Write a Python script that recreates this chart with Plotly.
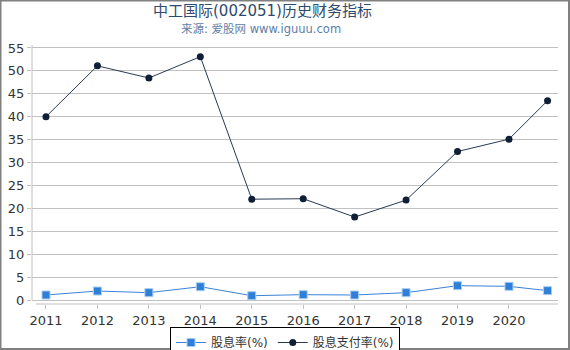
import plotly.graph_objects as go

years = [2011, 2012, 2013, 2014, 2015, 2016, 2017, 2018, 2019, 2020, 2020.75]
tick_vals = [2011, 2012, 2013, 2014, 2015, 2016, 2017, 2018, 2019, 2020]
tick_text = [str(v) for v in tick_vals]
dividend_yield = [1.09, 1.96, 1.6, 2.9, 0.94, 1.16, 1.09, 1.6, 3.13, 2.98, 2.04]
payout_ratio = [40.0, 51.1, 48.45, 53.1, 22.0, 22.1, 18.1, 21.8, 32.4, 35.1, 43.5]

FONT = "DejaVu Sans, Noto Sans CJK SC, sans-serif"

fig = go.Figure()
fig.add_trace(go.Scatter(
    x=years, y=dividend_yield, name="股息率(%)", mode="lines+markers",
    line=dict(color="#3b82d6", width=1),
    marker=dict(symbol="square", size=8, color="#2f7fd8",
                line=dict(color="#a9cdf2", width=1)),
))
fig.add_trace(go.Scatter(
    x=years, y=payout_ratio, name="股息支付率(%)", mode="lines+markers",
    line=dict(color="#2a3a55", width=1),
    marker=dict(symbol="circle", size=7, color="#0f1f38"),
))

x_lo, x_hi = 2010.728, 2020.953
y_lo, y_hi = -0.873, 55.65
PW, PH = 526, 259

fig.update_layout(
    width=570, height=350,
    margin=dict(l=32, r=12, t=45, b=46, autoexpand=False),
    paper_bgcolor="white", plot_bgcolor="white",
    font=dict(family=FONT, size=13, color="#333333"),
    showlegend=True,
    legend=dict(
        orientation="h", x=(285 - 32) / PW, xanchor="center",
        y=-23 / PH, yanchor="top",
        bordercolor="#000000", borderwidth=1,
        font=dict(family=FONT, size=12, color="#333333"),
        itemwidth=30, tracegroupgap=0,
    ),
    xaxis=dict(
        range=[x_lo, x_hi], tickvals=tick_vals, ticktext=tick_text,
        showgrid=False, zeroline=False, showline=False,
        ticks="outside", ticklen=4, tickcolor="#c0c0c0",
        tickfont=dict(size=13, color="#333333"),
    ),
    yaxis=dict(
        range=[y_lo, y_hi], tickvals=list(range(0, 56, 5)),
        showgrid=True, gridcolor="#c0c0c0", gridwidth=1,
        zeroline=False, showline=False,
        ticks="outside", ticklen=4, tickcolor="#c0c0c0",
        tickfont=dict(size=13, color="#333333"),
    ),
    annotations=[
        dict(text="中工国际(002051)历史财务指标", xref="paper", yref="paper",
             x=(262 - 32) / PW, y=1 + (45 - 11) / PH, xanchor="center", yanchor="middle",
             showarrow=False, font=dict(family=FONT, size=15, color="#2d4b6e")),
        dict(text="来源: 爱股网 www.iguuu.com", xref="paper", yref="paper",
             x=(261 - 32) / PW, y=1 + (45 - 29) / PH, xanchor="center", yanchor="middle",
             showarrow=False, font=dict(family=FONT, size=11.5, color="#5d7ea6")),
    ],
    shapes=[
        dict(type="line", xref="paper", yref="y", x0=0, x1=0, y0=0, y1=y_hi,
             line=dict(color="#c0c0c0", width=1)),
        dict(type="line", xref="x", yref="paper", x0=2010.8, x1=x_hi, y0=0, y1=0,
             line=dict(color="#c0c0c0", width=1)),
        dict(type="rect", xref="paper", yref="paper",
             x0=-31.5 / PW, x1=1 + 11 / PW, y0=-45 / PH, y1=1 + 44.5 / PH,
             line=dict(color="#808080", width=2)),
    ],
)

fig.write_html("out.html")
